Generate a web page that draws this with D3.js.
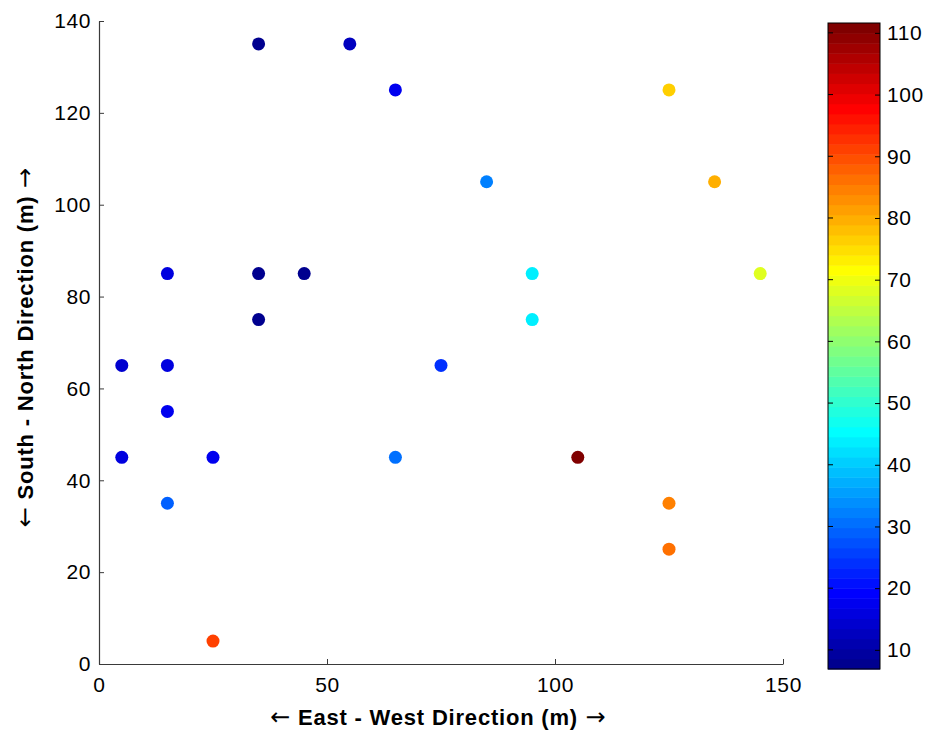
<!DOCTYPE html>
<html>
<head>
<meta charset="utf-8">
<script src="https://cdn.jsdelivr.net/npm/d3@7"></script>
<style>
  html, body { margin: 0; padding: 0; background: #fff; }
  svg text { font-family: "Liberation Sans", Arial, sans-serif; fill: #000; }
  .arrow { font-family: "DejaVu Sans", sans-serif; font-weight: normal; letter-spacing: 0; }
</style>
</head>
<body>
<svg id="chart" width="928" height="732"></svg>
<script>
// Sample locations (m) and the measured value at each one
const eastWest   = [35, 55, 65, 85, 125, 135, 145, 15, 35, 45, 95, 35, 95, 5, 15, 75, 15, 5, 25, 65, 105, 15, 125, 125, 25];
const southNorth = [135, 135, 125, 105, 125, 105, 85, 85, 85, 85, 85, 75, 75, 65, 65, 65, 55, 45, 45, 45, 45, 35, 35, 25, 5];
const measured   = [7.5, 12.6, 17.5, 32.3, 76.4, 79.7, 68.3, 15.9, 8.5, 6.9, 43.7, 8.5, 43.7, 15.0, 16.0, 23.3, 17.5, 16.5, 17.5, 31.4, 111.6, 29.0, 84.0, 86.2, 90.7];

const xTicks = [0, 50, 100, 150];
const yTicks = [0, 20, 40, 60, 80, 100, 120, 140];
const cTicks = [10, 20, 30, 40, 50, 60, 70, 80, 90, 100, 110];

const xLabel = "East - West Direction (m)";
const yLabel = "South - North Direction (m)";

const svg = d3.select("#chart");

const plot = { left: 99, right: 783, top: 21, bottom: 664 };
const bar = { left: 828, right: 880, top: 23, bottom: 669 };

const x = d3.scaleLinear().domain([0, 150]).range([plot.left, plot.right]);
const y = d3.scaleLinear().domain([0, 140]).range([plot.bottom, plot.top]);

// Classic 64-entry jet colour table
const N = 64;
const jetTable = d3.range(N).map(i => {
  const k = i + 1;
  const ramp = v => Math.max(0, Math.min(1, v));
  const r = ramp((k - 24) / 16) - ramp((k - 56) / 16);
  const g = ramp((k - 8) / 16) - ramp((k - 40) / 16);
  const b = ramp((k + 8) / 16) - ramp((k - 24) / 16);
  return d3.rgb(Math.round(r * 255), Math.round(g * 255), Math.round(b * 255)).toString();
});

const [vMin, vMax] = d3.extent(measured);
const colour = d3.scaleQuantize().domain([vMin, vMax]).range(jetTable);

// Axes: left and bottom only, ticks pointing inward
const axisColour = "#3a3a3a";

const gx = svg.append("g")
  .attr("transform", `translate(0,${plot.bottom})`)
  .call(d3.axisBottom(x).tickValues(xTicks).tickFormat(d3.format("d"))
    .tickSizeInner(-5).tickSizeOuter(0).tickPadding(13));
const gy = svg.append("g")
  .attr("transform", `translate(${plot.left},0)`)
  .call(d3.axisLeft(y).tickValues(yTicks).tickFormat(d3.format("d"))
    .tickSizeInner(-5).tickSizeOuter(0).tickPadding(8));

[gx, gy].forEach(g => {
  g.select(".domain").attr("stroke", axisColour).attr("stroke-width", 1.2);
  g.selectAll(".tick line").attr("stroke", axisColour);
  g.selectAll(".tick text")
    .style("font-size", "21px")
    .style("letter-spacing", "0.6px")
    .attr("fill", "#000");
});

// Scatter points
svg.append("g")
  .selectAll("circle")
  .data(measured)
  .join("circle")
  .attr("cx", (d, i) => x(eastWest[i]))
  .attr("cy", (d, i) => y(southNorth[i]))
  .attr("r", 6.5)
  .attr("fill", d => colour(d));

// Axis titles with direction arrows on both ends
function title(sel, label) {
  sel.attr("text-anchor", "middle")
    .style("font-size", "22px")
    .style("font-weight", "bold")
    .style("letter-spacing", "0.8px");
  sel.append("tspan").attr("class", "arrow").style("font-size", "24px").text("\u2190 ");
  sel.append("tspan").text(label);
  sel.append("tspan").attr("class", "arrow").style("font-size", "24px").text(" \u2192");
}

svg.append("text")
  .attr("x", (plot.left + plot.right) / 2 - 3)
  .attr("y", 725)
  .call(title, xLabel);

svg.append("text")
  .attr("transform", `translate(33,${(plot.top + plot.bottom) / 2 + 5}) rotate(-90)`)
  .call(title, yLabel);

// Colour bar
const c = d3.scaleLinear().domain([vMin, vMax]).range([bar.bottom, bar.top]);
const bandStep = (vMax - vMin) / N;
svg.append("g")
  .selectAll("rect")
  .data(jetTable)
  .join("rect")
  .attr("x", bar.left)
  .attr("width", bar.right - bar.left)
  .attr("y", (d, i) => c(vMin + (i + 1) * bandStep))
  .attr("height", (d, i) => c(vMin + i * bandStep) - c(vMin + (i + 1) * bandStep) + 0.5)
  .attr("fill", d => d);

svg.append("rect")
  .attr("x", bar.left)
  .attr("y", bar.top)
  .attr("width", bar.right - bar.left)
  .attr("height", bar.bottom - bar.top)
  .attr("fill", "none")
  .attr("stroke", "#000")
  .attr("stroke-width", 1);

const gc = svg.append("g")
  .attr("transform", `translate(${bar.right},0)`)
  .call(d3.axisRight(c).tickValues(cTicks).tickFormat(d3.format("d"))
    .tickSizeInner(-5).tickSizeOuter(0).tickPadding(7));
gc.select(".domain").remove();
gc.selectAll(".tick line").attr("stroke", "#000");
gc.selectAll(".tick text").style("font-size", "21px").style("letter-spacing", "0.6px").attr("fill", "#000");

// inward ticks on the left edge of the bar as well
svg.append("g")
  .selectAll("line")
  .data(cTicks)
  .join("line")
  .attr("x1", bar.left)
  .attr("x2", bar.left + 5)
  .attr("y1", d => c(d))
  .attr("y2", d => c(d))
  .attr("stroke", "#000");
</script>
</body>
</html>
